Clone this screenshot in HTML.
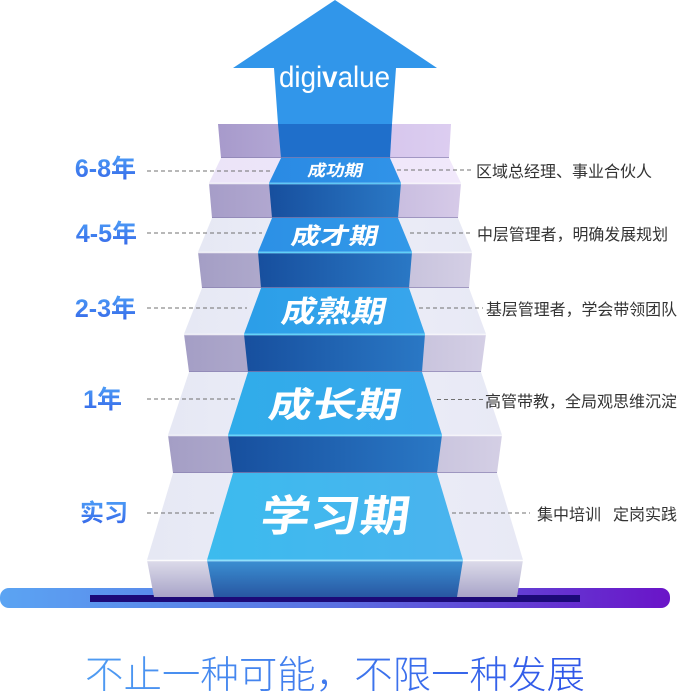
<!DOCTYPE html>
<html><head><meta charset="utf-8"><style>
html,body{margin:0;padding:0;background:#fff;width:678px;height:698px;overflow:hidden}
svg{display:block}
.cjk{font-family:"Liberation Sans","Noto Sans CJK SC",sans-serif}
</style></head><body>
<svg width="678" height="698" viewBox="0 0 678 698" xmlns="http://www.w3.org/2000/svg">
<defs>
 <linearGradient id="bar" x1="0" y1="0" x2="1" y2="0">
  <stop offset="0" stop-color="#5ba4f3"/><stop offset="0.5" stop-color="#5a70e2"/><stop offset="1" stop-color="#6a14c8"/>
 </linearGradient>
 <linearGradient id="pg" x1="0" y1="0" x2="1" y2="0">
  <stop offset="0" stop-color="#a79acb"/><stop offset="0.4" stop-color="#b8acd8"/><stop offset="0.6" stop-color="#d4c4eb"/><stop offset="1" stop-color="#dccdf0"/>
 </linearGradient>
 <linearGradient id="rg" x1="0" y1="0" x2="1" y2="0">
  <stop offset="0" stop-color="#a49ec5"/><stop offset="0.5" stop-color="#bab5d3"/><stop offset="1" stop-color="#d4cfe5"/>
 </linearGradient>
 <linearGradient id="rg5" x1="0" y1="0" x2="1" y2="0">
  <stop offset="0" stop-color="#a69dc8"/><stop offset="0.5" stop-color="#bcb2d8"/><stop offset="1" stop-color="#d6cae8"/>
 </linearGradient>
 <linearGradient id="rb" x1="0" y1="0" x2="1" y2="0">
  <stop offset="0" stop-color="#174f9e"/><stop offset="1" stop-color="#2a78c5"/>
 </linearGradient>
 <linearGradient id="r1g" x1="0" y1="0" x2="0" y2="1">
  <stop offset="0" stop-color="#dddcea"/><stop offset="1" stop-color="#a8a4c8"/>
 </linearGradient>
 <linearGradient id="r1b" x1="0" y1="0" x2="0" y2="1">
  <stop offset="0" stop-color="#3b90d3"/><stop offset="1" stop-color="#2857a2"/>
 </linearGradient>
 <linearGradient id="tg" x1="0" y1="0" x2="1" y2="0">
  <stop offset="0" stop-color="#e6e8f4"/><stop offset="0.5" stop-color="#eceef8"/><stop offset="1" stop-color="#e8e9f5"/>
 </linearGradient>
 <linearGradient id="tg5" x1="0" y1="0" x2="1" y2="0">
  <stop offset="0" stop-color="#ebe4f8"/><stop offset="1" stop-color="#f1e8fb"/>
 </linearGradient>
 <linearGradient id="tb5" x1="0" y1="0" x2="1" y2="0"><stop offset="0" stop-color="#2a8ae4"/><stop offset="1" stop-color="#3093e8"/></linearGradient>
 <linearGradient id="tb4" x1="0" y1="0" x2="1" y2="0"><stop offset="0" stop-color="#2c90e6"/><stop offset="1" stop-color="#3299e8"/></linearGradient>
 <linearGradient id="tb3" x1="0" y1="0" x2="1" y2="0"><stop offset="0" stop-color="#2b9ee8"/><stop offset="1" stop-color="#38a6ec"/></linearGradient>
 <linearGradient id="tb2" x1="0" y1="0" x2="1" y2="0"><stop offset="0" stop-color="#30acea"/><stop offset="1" stop-color="#3aa8ec"/></linearGradient>
 <linearGradient id="tb1" x1="0" y1="0" x2="1" y2="0"><stop offset="0" stop-color="#3cbbee"/><stop offset="1" stop-color="#4ab3ee"/></linearGradient>
 <linearGradient id="lg" x1="0" y1="0" x2="0" y2="1"><stop offset="0" stop-color="#4c9cf6"/><stop offset="1" stop-color="#3565e8"/></linearGradient>
 <linearGradient id="sg" x1="0" y1="0" x2="1" y2="0"><stop offset="0" stop-color="#4f9cf2"/><stop offset="1" stop-color="#2f55e8"/></linearGradient>
</defs>

<!-- base bar -->
<rect x="0" y="588" width="670" height="20" rx="9" fill="url(#bar)"/>
<rect x="90" y="595" width="490" height="7" fill="#1c0a78"/>

<!-- arrow -->
<polygon points="335,0 437,68 396,68 392,124 278,124 274,68 233,68" fill="#3196ea"/>

<!-- top riser (step 6) -->
<polygon points="218,124 451,124 449,158 221,158" fill="url(#pg)"/>
<polygon points="278,124 392,124 390,158 281,158" fill="#1f6fcb"/>

<!-- tread 5 -->
<polygon points="221,158 449,158 461,183 209,183" fill="url(#tg5)"/>
<polygon points="281,158 390,158 401,183 269,183" fill="url(#tb5)"/>
<!-- riser 5 -->
<polygon points="209,183 461,183 458,218 212,218" fill="url(#rg5)"/>
<polygon points="269,183 401,183 398,218 272,218" fill="url(#rb)"/>

<!-- tread 4 -->
<polygon points="212,218 458,218 472,252 198,252" fill="url(#tg)"/>
<polygon points="272,218 398,218 412,252 258,252" fill="url(#tb4)"/>
<!-- riser 4 -->
<polygon points="198,252 472,252 469,288 202,288" fill="url(#rg)"/>
<polygon points="258,252 412,252 409,288 261,288" fill="url(#rb)"/>

<!-- tread 3 -->
<polygon points="202,288 469,288 486,334 184,334" fill="url(#tg)"/>
<polygon points="261,288 409,288 425,334 244,334" fill="url(#tb3)"/>
<!-- riser 3 -->
<polygon points="184,334 486,334 481,372 189,372" fill="url(#rg)"/>
<polygon points="244,334 425,334 422,372 248,372" fill="url(#rb)"/>

<!-- tread 2 -->
<polygon points="189,372 481,372 502,435 168,435" fill="url(#tg)"/>
<polygon points="248,372 422,372 442,435 228,435" fill="url(#tb2)"/>
<!-- riser 2 -->
<polygon points="168,435 502,435 497,473 173,473" fill="url(#rg)"/>
<polygon points="228,435 442,435 437,473 233,473" fill="url(#rb)"/>

<!-- tread 1 -->
<polygon points="173,473 497,473 523,560 147,560" fill="url(#tg)"/>
<polygon points="233,473 437,473 463,560 207,560" fill="url(#tb1)"/>
<!-- riser 1 -->
<polygon points="147,560 523,560 517,597 154,597" fill="url(#r1g)"/>
<polygon points="207,560 463,560 457,597 214,597" fill="url(#r1b)"/>

<!-- highlights at riser tops -->
<g stroke-width="1.5">
 <line x1="209" y1="183.5" x2="461" y2="183.5" stroke="#ffffff" stroke-opacity="0.8"/>
 <line x1="269" y1="183.5" x2="401" y2="183.5" stroke="#5fc8f6"/>
 <line x1="198" y1="252.5" x2="472" y2="252.5" stroke="#ffffff" stroke-opacity="0.8"/>
 <line x1="258" y1="252.5" x2="412" y2="252.5" stroke="#5fd0f8"/>
 <line x1="184" y1="334.5" x2="486" y2="334.5" stroke="#ffffff" stroke-opacity="0.8"/>
 <line x1="244" y1="334.5" x2="425" y2="334.5" stroke="#62d4f8"/>
 <line x1="168" y1="435.5" x2="502" y2="435.5" stroke="#ffffff" stroke-opacity="0.8"/>
 <line x1="228" y1="435.5" x2="442" y2="435.5" stroke="#66d6fa"/>
 <line x1="147" y1="560.5" x2="523" y2="560.5" stroke="#ffffff" stroke-opacity="0.9"/>
 <line x1="207" y1="560.5" x2="463" y2="560.5" stroke="#8fe0fb"/>
</g>
<g stroke="#8a82b2" stroke-width="1" stroke-opacity="0.7">
 <line x1="221" y1="157.5" x2="449" y2="157.5"/>
 <line x1="212" y1="217.5" x2="458" y2="217.5"/>
 <line x1="202" y1="287.5" x2="469" y2="287.5"/>
 <line x1="189" y1="371.5" x2="481" y2="371.5"/>
 <line x1="173" y1="472.5" x2="497" y2="472.5"/>
</g>

<!-- logo -->
<text x="279" y="87" font-family="Liberation Sans, sans-serif" font-size="30" fill="#ffffff" textLength="111" lengthAdjust="spacingAndGlyphs">digi<tspan font-weight="bold">v</tspan>alue</text>

<!-- carpet titles -->
<g class="cjk" fill="#ffffff" font-weight="bold">
 <g transform="translate(307,176) skewX(-12)"><text x="0" y="0" font-size="16" textLength="55" lengthAdjust="spacingAndGlyphs">成功期</text></g>
 <g transform="translate(290,244) skewX(-12)"><text x="0" y="0" font-size="23" textLength="87" lengthAdjust="spacingAndGlyphs">成才期</text></g>
 <g transform="translate(280,322) skewX(-12)"><text x="0" y="0" font-size="30" textLength="104" lengthAdjust="spacingAndGlyphs">成熟期</text></g>
 <g transform="translate(267,417) skewX(-12)"><text x="0" y="0" font-size="35" textLength="131" lengthAdjust="spacingAndGlyphs">成长期</text></g>
 <g transform="translate(259,531) skewX(-8)"><text x="0" y="0" font-size="43" textLength="149" lengthAdjust="spacingAndGlyphs">学习期</text></g>
</g>

<!-- dashed connectors -->
<g stroke="#707070" stroke-width="1" stroke-dasharray="4 3" fill="none">
 <line x1="147" y1="171" x2="273" y2="171"/>
 <line x1="147" y1="233" x2="262" y2="233"/>
 <line x1="147" y1="308" x2="247" y2="308"/>
 <line x1="147" y1="399" x2="237" y2="399"/>
 <line x1="147" y1="513" x2="215" y2="513"/>
 <line x1="397" y1="170" x2="473" y2="170"/>
 <line x1="410" y1="233" x2="473" y2="233"/>
 <line x1="419" y1="308" x2="483" y2="308"/>
 <line x1="437" y1="399.5" x2="485" y2="399.5"/>
 <line x1="452" y1="513" x2="530" y2="513"/>
</g>

<!-- left labels -->
<g class="cjk" font-weight="bold" fill="url(#lg)" text-anchor="end">
 <text x="136" y="177" font-size="25">6-8年</text>
 <text x="137" y="242" font-size="25">4-5年</text>
 <text x="136" y="317" font-size="25">2-3年</text>
 <text x="122" y="408" font-size="25">1年</text>
 <text x="128" y="521" font-size="24">实习</text>
</g>

<!-- right labels -->
<g class="cjk" font-size="16" fill="#333333">
 <text x="476" y="177" textLength="176" lengthAdjust="spacingAndGlyphs">区域总经理、事业合伙人</text>
 <text x="477" y="240" textLength="191" lengthAdjust="spacingAndGlyphs">中层管理者，明确发展规划</text>
 <text x="486" y="315" textLength="191" lengthAdjust="spacingAndGlyphs">基层管理者，学会带领团队</text>
 <text x="485" y="407" textLength="192" lengthAdjust="spacingAndGlyphs">高管带教，全局观思维沉淀</text>
 <text x="537" y="520">集中培训</text>
 <text x="613" y="520">定岗实践</text>
</g>

<!-- slogan -->
<text class="cjk" x="85" y="688" font-size="38" font-weight="300" fill="url(#sg)" textLength="500" lengthAdjust="spacingAndGlyphs">不止一种可能，不限一种发展</text>
</svg>
</body></html>
